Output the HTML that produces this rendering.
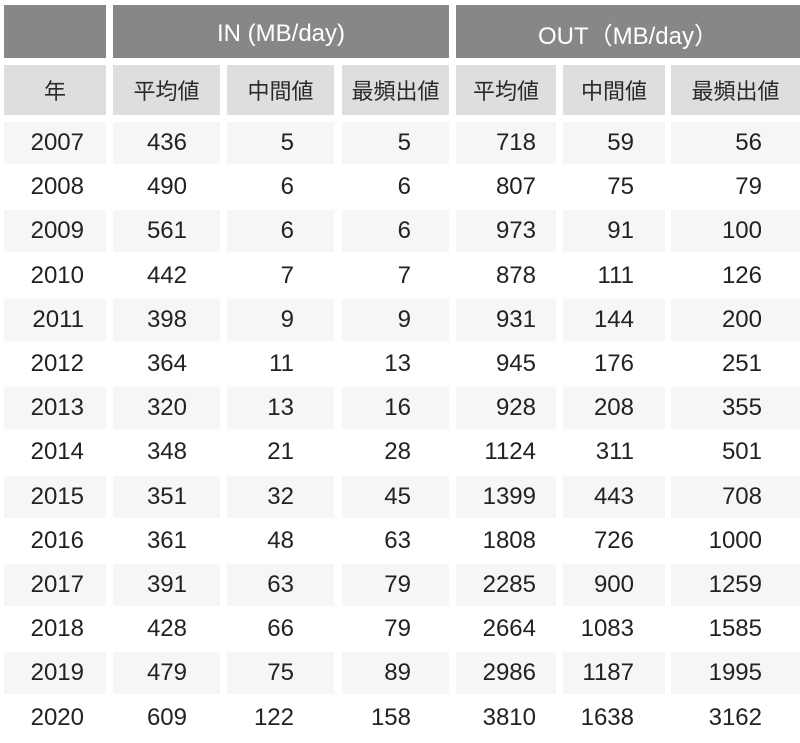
<!DOCTYPE html>
<html><head><meta charset="utf-8"><style>
body{margin:0;width:800px;height:743px;background:#fff;position:relative;overflow:hidden;font-family:"Liberation Sans","Noto Sans CJK JP",sans-serif;}
.c{position:absolute;box-sizing:border-box;display:flex;align-items:center;font-size:24px;color:#222;}
.h{background:#878787;color:#fff;justify-content:center;font-size:24px;padding-top:4px;}
.s{background:#dddede;justify-content:center;font-size:22px;color:#2a2a2a;}
.d{justify-content:flex-end;}
.g{background:#f5f6f6;}
</style></head><body>
<div class="c h" style="left:4px;top:5px;width:102px;height:53px"></div>
<div class="c h" style="left:113px;top:5px;width:336px;height:53px">IN (MB/day)</div>
<div class="c h" style="left:456px;top:5px;width:344px;height:53px">OUT（MB/day）</div>
<div id="t"></div>
<script>
var cols=[[4,102,22],[113,107,33],[227,107,40],[342,107,38],[456,100,20],[563,102,31],[671,129,38]];
var hd=["年","平均値","中間値","最頻出値","平均値","中間値","最頻出値"];
var data=[[2007,436,5,5,718,59,56],[2008,490,6,6,807,75,79],[2009,561,6,6,973,91,100],[2010,442,7,7,878,111,126],[2011,398,9,9,931,144,200],[2012,364,11,13,945,176,251],[2013,320,13,16,928,208,355],[2014,348,21,28,1124,311,501],[2015,351,32,45,1399,443,708],[2016,361,48,63,1808,726,1000],[2017,391,63,79,2285,900,1259],[2018,428,66,79,2664,1083,1585],[2019,479,75,89,2986,1187,1995],[2020,609,122,158,3810,1638,3162]];
var h="";
cols.forEach(function(c,i){h+='<div class="c s" style="left:'+c[0]+'px;top:65px;width:'+c[1]+'px;height:50px">'+hd[i]+'</div>';});
data.forEach(function(r,j){var y=122+j*44.2;cols.forEach(function(c,i){h+='<div class="c d'+(j%2==0?' g':'')+'" style="left:'+c[0]+'px;top:'+y+'px;width:'+c[1]+'px;height:42px;padding-right:'+c[2]+'px">'+r[i]+'</div>';});});
document.getElementById("t").innerHTML=h;
</script>
</body></html>
